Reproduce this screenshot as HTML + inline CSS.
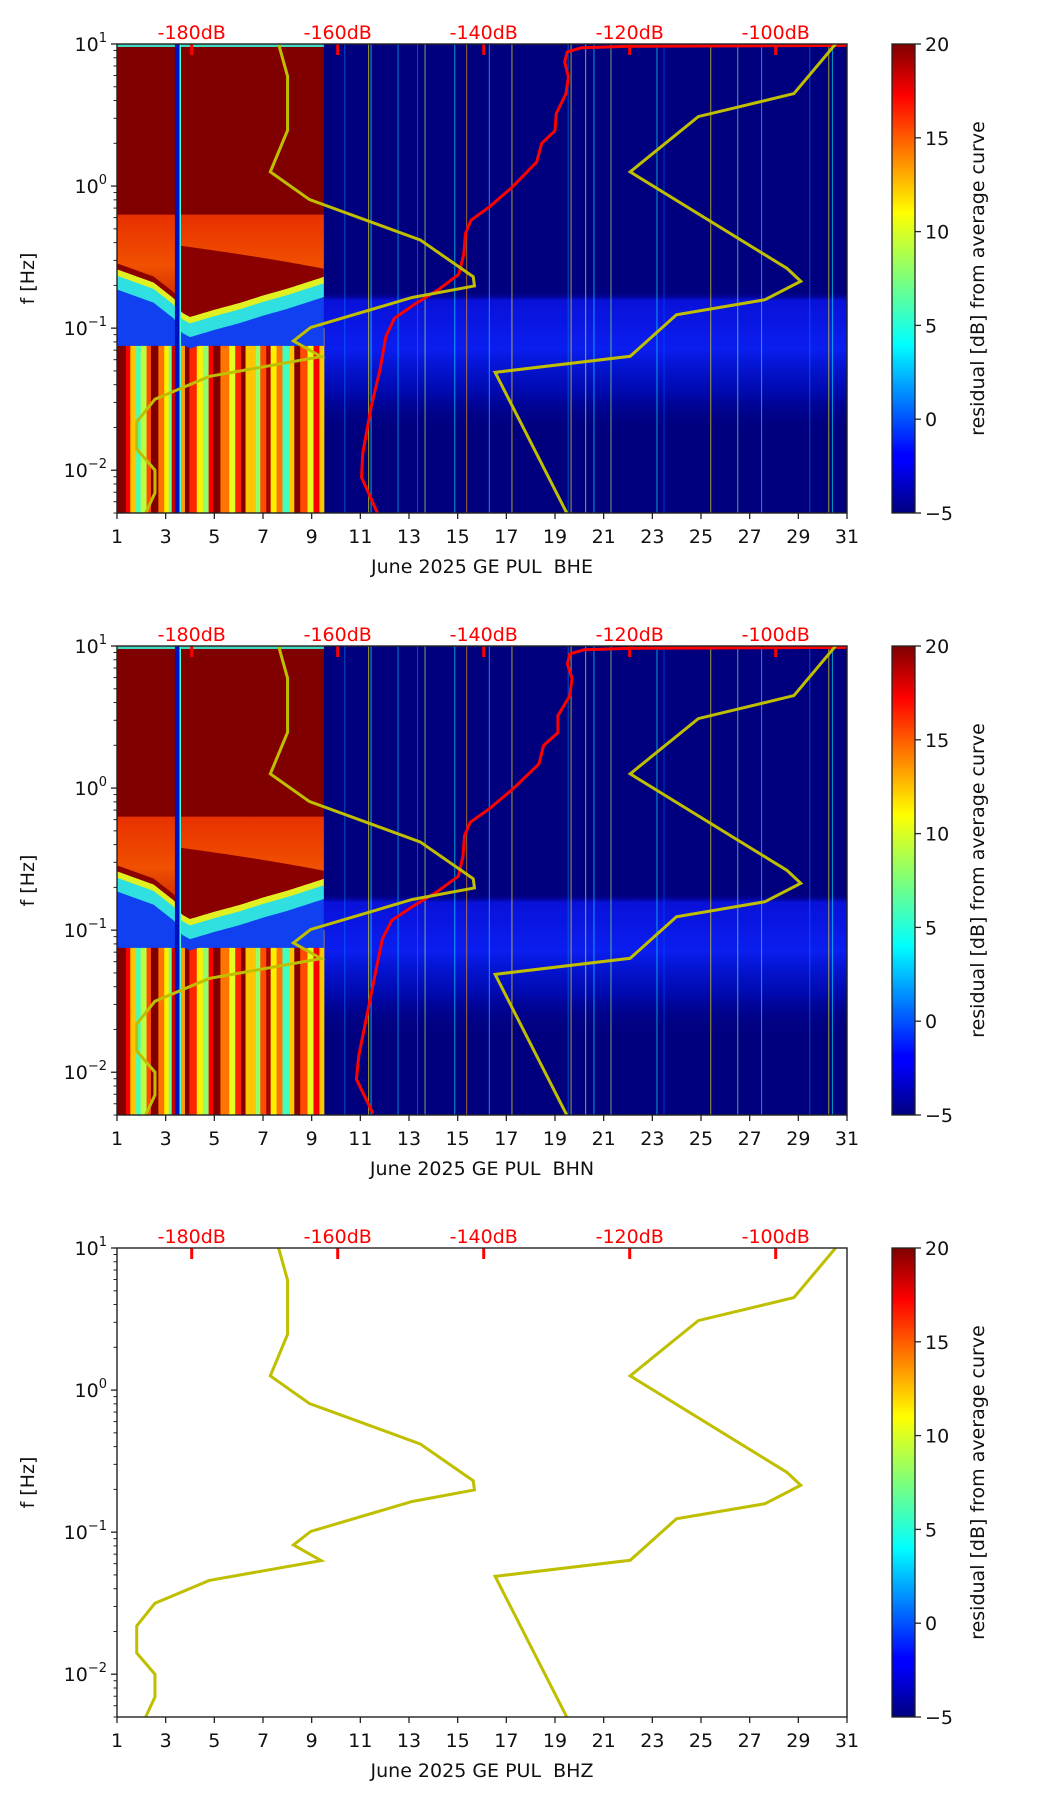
<!DOCTYPE html>
<html><head><meta charset="utf-8"><title>PSD residual spectrograms</title>
<style>
html,body{margin:0;padding:0;background:#fff;}
svg{display:block;font-family:"DejaVu Sans","Liberation Sans",sans-serif;}
</style></head>
<body>
<svg id="fig" width="1052" height="1806" viewBox="0 0 1052 1806" xmlns="http://www.w3.org/2000/svg">
<defs>
<linearGradient id="jet" x1="0" y1="1" x2="0" y2="0">
<stop offset="0" stop-color="#00007f"/><stop offset="0.11" stop-color="#0000ff"/><stop offset="0.125" stop-color="#0000ff"/>
<stop offset="0.36" stop-color="#00ffff"/><stop offset="0.5" stop-color="#7dff7a"/><stop offset="0.64" stop-color="#ffff00"/>
<stop offset="0.89" stop-color="#ff0000"/><stop offset="1" stop-color="#7f0000"/>
</linearGradient>
<linearGradient id="band" x1="0" y1="0" x2="0" y2="1">
<stop offset="0" stop-color="#00007f" stop-opacity="0"/><stop offset="0.06" stop-color="#0a14e8" stop-opacity="0.85"/>
<stop offset="0.4" stop-color="#0a1ef0" stop-opacity="1"/><stop offset="0.7" stop-color="#0010d0" stop-opacity="0.6"/>
<stop offset="1" stop-color="#00007f" stop-opacity="0"/>
</linearGradient>
<linearGradient id="orng" x1="0" y1="0" x2="0" y2="1">
<stop offset="0" stop-color="#e83000"/><stop offset="0.5" stop-color="#f05000"/><stop offset="1" stop-color="#c01800"/>
</linearGradient>
</defs>
</svg>
<script>
// ---------- data ----------
const panels = ["BHE","BHN","BHZ"];
const dayTicks = [1,3,5,7,9,11,13,15,17,19,21,23,25,27,29,31];
const dbLabels = ["-180dB","-160dB","-140dB","-120dB","-100dB"];
const dbDays = [4.07,10.07,16.07,22.07,28.07];
const cbTicks = [-5,0,5,10,15,20];
// low noise model (day, log10 f)
const nlnmDay = [7.64,8.01,8.01,7.30,8.91,13.46,15.64,15.69,13.13,8.96,8.25,9.39,4.79,2.56,1.81,1.81,2.56,2.56,2.18];
const nlnmLogF = [1,0.773,0.392,0.10,-0.095,-0.379,-0.638,-0.703,-0.784,-0.995,-1.09,-1.20,-1.34,-1.50,-1.66,-1.85,-2.0,-2.16,-2.30];
// high noise model
const nhnmDay = [30.53,28.82,24.89,22.09,28.54,29.10,27.63,23.99,22.09,16.54,19.48];
const nhnmLogF = [1,0.651,0.489,0.10,-0.58,-0.67,-0.80,-0.906,-1.198,-1.311,-2.30];
// average curve (red) per panel
const avgDay1 = [11.70,11.05,11.10,11.45,11.80,12.05,12.40,13.25,14.20,15.05,15.25,15.32,15.55,16.30,17.25,18.25,18.45,19.0,19.05,19.45,19.55,19.40,19.50,20.1,22.1,31];
const avgLogF1 = [-2.30,-2.05,-1.88,-1.55,-1.30,-1.06,-0.93,-0.83,-0.73,-0.62,-0.48,-0.335,-0.24,-0.147,-0.006,0.17,0.30,0.39,0.51,0.65,0.77,0.873,0.944,0.974,0.984,0.99];
const avgDay2 = [11.52,10.84,10.94,11.33,11.62,11.91,12.30,13.18,14.15,15.03,15.22,15.28,15.52,16.29,17.27,18.34,18.53,19.12,19.12,19.61,19.70,19.51,19.61,20.2,22.1,31];
const avgLogF2 = [-2.29,-2.05,-1.88,-1.55,-1.30,-1.06,-0.93,-0.83,-0.73,-0.62,-0.48,-0.335,-0.24,-0.147,-0.006,0.17,0.30,0.39,0.51,0.65,0.77,0.873,0.944,0.974,0.984,0.99];
const noisyEnd = 9.5;
const gapStart = 3.38, gapEnd = 3.63;
const bndDay = [1,2.5,3.38,3.63,4,5,6,7,8,9.5];
const bndF = [0.26,0.21,0.16,0.13,0.12,0.135,0.15,0.17,0.19,0.23];
const lineDays = [10.34,11.32,11.42,12.53,13.33,13.64,14.86,15.35,16.28,17.21,19.52,19.64,20.24,20.58,21.28,23.17,23.46,25.38,26.49,27.47,29.45,30.23,30.38];
const lineVals = [1,11,5,3,1,9,4,13,4,11,1,11,11,4,8,4,0,11,7,4,1,11,4];
const stripeW = [0.3,0.15,0.2,0.15,0.2,0.15,0.25,0.2,0.15,0.1,0.25,0.2,0.15,0.25,0.2,0.2,0.15,0.25,0.3,0.2,0.2,0.15,0.35,0.15,0.2,0.15,0.2,0.2,0.25,0.15,0.2,0.25,0.2,0.2,0.15];
const stripeV = [20,17,12,6,9,15,20,14,11,7,18,13,20,16,11,8,17,20,14,10,16,20,12,8,15,19,11,14,6,12,20,15,10,17,12];

// ---------- layout ----------
const svg = document.getElementById('fig');
const NS = "http://www.w3.org/2000/svg";
const L = 117, W = 730, H = 469, tops = [44,646,1248];
const CBX = 892, CBW = 23;
const LMIN = Math.log10(0.005), LMAX = 1;
function X(d){ return L + (d-1)/30*W; }
function YL(top, lf){ return top + (LMAX-lf)/(LMAX-LMIN)*H; }
function Y(top, f){ return YL(top, Math.log10(f)); }
function jet(v){
  const t = Math.max(0,Math.min(1,(v+5)/25));
  const r = Math.max(0,Math.min(1,Math.min(4*t-1.5,-4*t+4.5)));
  const g = Math.max(0,Math.min(1,Math.min(4*t-0.5,-4*t+3.5)));
  const b = Math.max(0,Math.min(1,Math.min(4*t+0.5,-4*t+2.5)));
  return `rgb(${Math.round(r*255)},${Math.round(g*255)},${Math.round(b*255)})`;
}
function el(tag, attrs, parent){
  const e = document.createElementNS(NS, tag);
  for (const k in attrs) e.setAttribute(k, attrs[k]);
  (parent||svg).appendChild(e);
  return e;
}
function bnd(d){
  for (let i=0;i<bndDay.length-1;i++){
    if (d>=bndDay[i] && d<=bndDay[i+1]){
      const t=(d-bndDay[i])/(bndDay[i+1]-bndDay[i]);
      return Math.pow(10, Math.log10(bndF[i])*(1-t)+Math.log10(bndF[i+1])*t);
    }
  }
  return bndF[bndF.length-1];
}
function bandPoly(top, g, f1fn, f2fn, color, name){
  const pts=[];
  for (let d=1; d<=noisyEnd+1e-6; d+=0.1) pts.push(X(d)+','+Y(top,f1fn(d)));
  for (let d=noisyEnd; d>=1-1e-6; d-=0.1) pts.push(X(d)+','+Y(top,f2fn(d)));
  const p = el('polygon',{points:pts.join(' '),fill:color},g);
  
  
}

panels.forEach((comp, pi)=>{
  const top = tops[pi], bottom = top+H;
  const g = el('g',{});
  
  
  const cp = el('clipPath',{id:'clip'+pi},g);
  el('rect',{x:L,y:top,width:W,height:H},cp);
  const plot = el('g',{'clip-path':`url(#clip${pi})`},g);
  
  

  if (pi < 2){
    const spec = el('g',{},plot);
    
    
    const bg = el('rect',{x:L,y:top,width:W,height:H,fill:'#00007f'},spec);
    
    
    const band = el('rect',{x:X(noisyEnd),y:Y(top,0.18),width:X(31)-X(noisyEnd),height:Y(top,0.018)-Y(top,0.18),fill:'url(#band)'},spec);
    
    
    const nb = el('rect',{x:L,y:top,width:X(noisyEnd)-L,height:H,fill:'#800000'},spec);
    
    
    const sum = stripeW.reduce((a,b)=>a+b,0);
    let d0 = 1;
    stripeW.forEach((w,i)=>{
      const dw = w/sum*(noisyEnd-1);
      const r = el('rect',{x:X(d0),y:Y(top,0.1),width:X(d0+dw)-X(d0)+0.5,height:bottom-Y(top,0.1),fill:jet(stripeV[i])},spec);
      
      
      d0 += dw;
    });
    bandPoly(top, spec, d=>bnd(d)*0.75, d=>Math.min(0.075, bnd(d)*0.6), '#1040f0', 'quiet-zone');
    bandPoly(top, spec, d=>bnd(d)*0.92, d=>bnd(d)*0.72, '#30e0e0', 'transition-cyan');
    bandPoly(top, spec, d=>bnd(d), d=>bnd(d)*0.9, '#e0f020', 'transition-yellow');
    bandPoly(top, spec, d=>0.63, d=>bnd(d), 'url(#orng)', 'orange-zone');
    const wedge = d=> d<3.5 ? bnd(d)*1.1 : (0.38 - (d-3.6)*0.02);
    bandPoly(top, spec, wedge, d=>bnd(d), '#8a0000', 'dark-wedge');
    const tl = el('rect',{x:L,y:top,width:X(noisyEnd)-L,height:3,fill:'#40d8c0'},spec);
    
    
    const gp = el('rect',{x:X(gapStart),y:top,width:X(gapEnd)-X(gapStart),height:H,fill:'#0010c0'},spec);
    
    
    const gl = el('rect',{x:X(gapEnd)-1.5,y:top,width:1.5,height:H,fill:'#40ffd0'},spec);
    
    
    lineDays.forEach((d,i)=>{
      const ln = el('rect',{x:X(d),y:top,width:1,height:H,fill:jet(lineVals[i]),opacity:0.65},spec);
      
      
    });
    const ad = pi===0?avgDay1:avgDay2, al = pi===0?avgLogF1:avgLogF2;
    const avg = el('polyline',{points:ad.map((d,i)=>X(d)+','+YL(top,al[i])).join(' '),fill:'none',stroke:'#ff0000','stroke-width':3,'stroke-linejoin':'round'},plot);
    
    
  }
  const ln1 = el('polyline',{points:nlnmDay.map((d,i)=>X(d)+','+YL(top,nlnmLogF[i])).join(' '),fill:'none',stroke:'#bfbf00','stroke-width':3},plot);
  
  
  const ln2 = el('polyline',{points:nhnmDay.map((d,i)=>X(d)+','+YL(top,nhnmLogF[i])).join(' '),fill:'none',stroke:'#bfbf00','stroke-width':3},plot);
  
  

  dbDays.forEach((d,i)=>{
    const t = el('rect',{x:X(d)-1.5,y:top,width:3,height:11,fill:'#ff0000'},g);
    
    
    const tx = el('text',{x:X(d),y:top-5,'text-anchor':'middle','font-size':19,fill:'#ff0000'},g);
    tx.textContent = dbLabels[i];
    
    
  });
  const fr = el('rect',{x:L,y:top,width:W,height:H,fill:'none',stroke:'#222','stroke-width':1.4},g);
  
  
  dayTicks.forEach(d=>{
    el('line',{x1:X(d),x2:X(d),y1:bottom,y2:bottom+6,stroke:'#222','stroke-width':1.3},g);
    const t = el('text',{x:X(d),y:bottom+30,'text-anchor':'middle','font-size':19,fill:'#111'},g);
    t.textContent = d;
    
    
  });
  const xl = el('text',{x:L+W/2,y:bottom+60,'text-anchor':'middle','font-size':19,fill:'#111'},g);
  xl.textContent = 'June 2025 GE PUL\u00a0\u00a0'+comp;
  
  
  for (let e=-3;e<=1;e++){
    for (let m=1;m<=9;m++){
      const f = m*Math.pow(10,e);
      if (f<0.005-1e-9 || f>10+1e-9) continue;
      const y = Y(top,f);
      el('line',{x1:L,x2:L-(m===1?6:3.5),y1:y,y2:y,stroke:'#222','stroke-width':m===1?1.3:1},g);
      if (m===1){
        const t = el('text',{x:L-10,y:y+7,'text-anchor':'end','font-size':19,fill:'#111'},g);
        
        
        const a = el('tspan',{},t); a.textContent='10';
        const b = el('tspan',{dy:-9,'font-size':13}); t.appendChild(b); b.textContent = e<0?('\u2212'+(-e)):String(e);
      }
    }
  }
  const yl = el('text',{x:34,y:top+H/2,'text-anchor':'middle','font-size':19,fill:'#111',transform:`rotate(-90 34 ${top+H/2})`},g);
  yl.textContent = 'f [Hz]';
  
  
  const cb = el('rect',{x:CBX,y:top,width:CBW,height:H,fill:'url(#jet)',stroke:'#222','stroke-width':1.3},g);
  
  
  cbTicks.forEach(v=>{
    const y = top + (20-v)/25*H;
    el('line',{x1:CBX+CBW,x2:CBX+CBW+6,y1:y,y2:y,stroke:'#222','stroke-width':1.3},g);
    const t = el('text',{x:CBX+CBW+10,y:y+7,'font-size':19,fill:'#111'},g);
    t.textContent = v<0?('\u2212'+(-v)):String(v);
    
    
  });
  const cl = el('text',{x:984,y:top+H/2,'text-anchor':'middle','font-size':19,fill:'#111',transform:`rotate(-90 984 ${top+H/2})`},g);
  cl.textContent = 'residual [dB] from average curve';
  
  
});
</script>
</body></html>
